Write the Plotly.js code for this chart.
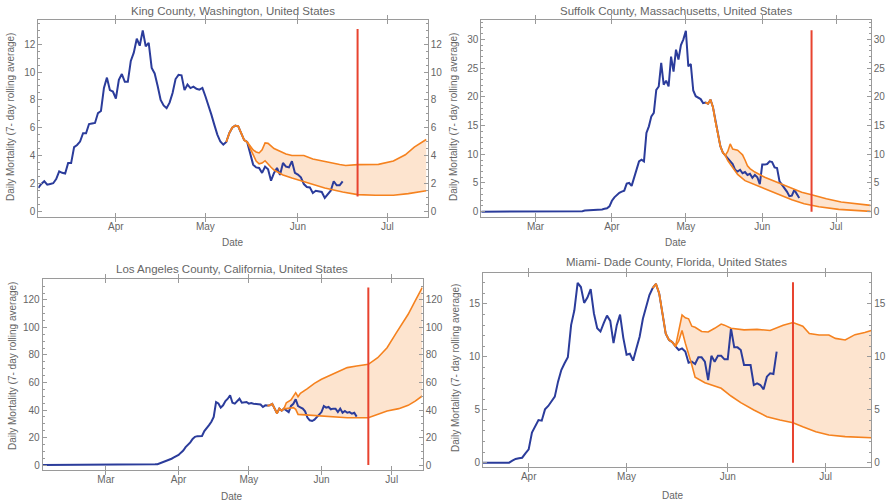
<!DOCTYPE html>
<html>
<head>
<meta charset="utf-8">
<script src="https://cdn.plot.ly/plotly-3.0.1.min.js"></script>
<style>html,body{margin:0;padding:0;background:#fff}#chart{width:887px;height:503px}</style>
</head>
<body>
<div id="chart"></div>
<script>
// ---------------- DATA ----------------
const monthTicks = ['2020-02-01','2020-03-01','2020-04-01','2020-05-01','2020-06-01','2020-07-01'];
const monthLabels = ['Feb','Mar','Apr','May','Jun','Jul'];
const yTitle = 'Daily Mortality (7- day rolling average)';
const xTitle = 'Date';

// King County
const kingTitle = 'King County, Washington, United States';
const kingObsStart = '2020-03-06';
const kingObs = [1.66,1.95,2.14,1.9,1.95,2.0,2.3,2.85,2.75,2.7,3.45,3.45,4.6,4.75,5.0,5.6,5.6,6.26,6.3,6.34,7.05,7.2,8.86,9.6,8.7,8.6,8.1,9.45,9.86,9.3,9.3,10.8,11.4,12.4,11.9,13.0,11.86,12.1,10.3,9.9,9.0,8.0,7.6,7.4,7.8,8.5,9.5,9.8,9.77,8.7,9.1,8.85,8.95,8.8,8.74,8.86,8.26,7.66,6.94,6.2,5.5,5.0,4.78,
  4.97,5.6,6.0,6.15,6.1,5.6,5.1,4.97,
  4.05,3.34,3.14,3.1,2.74,3.2,3.0,2.18,2.74,3.1,2.6,3.46,3.2,3.14,3.58,2.74,2.62,2.42,1.94,1.73,1.7,1.3,1.46,1.42,1.37,0.94,1.22,1.46,2.14,1.85,1.85,2.14];
const kingCommonStart = '2020-05-08';
const kingCommon = [4.97,5.6,6.0,6.15,6.1,5.6,5.1,4.97];
const kingUpDates = ['2020-05-16','2020-05-17','2020-05-18','2020-05-19','2020-05-20','2020-05-21','2020-05-22','2020-05-23','2020-05-24','2020-05-26','2020-05-28','2020-05-30','2020-06-03','2020-06-06','2020-06-10','2020-06-15','2020-06-17','2020-06-21','2020-06-28','2020-07-03','2020-07-07','2020-07-10','2020-07-14'];
const kingUp = [4.7,4.4,4.25,4.18,4.4,4.9,4.87,4.65,4.5,4.3,4.1,4.0,4.0,3.75,3.55,3.35,3.28,3.34,3.36,3.6,4.05,4.6,5.15];
const kingLoDates = ['2020-05-16','2020-05-17','2020-05-18','2020-05-19','2020-05-20','2020-05-21','2020-05-22','2020-05-23','2020-05-24','2020-05-27','2020-05-30','2020-06-05','2020-06-10','2020-06-16','2020-06-21','2020-06-27','2020-07-03','2020-07-08','2020-07-14'];
const kingLo = [4.5,4.0,3.6,3.4,3.45,3.62,3.35,3.15,2.95,2.6,2.38,2.0,1.66,1.37,1.18,1.13,1.13,1.25,1.46];
const kingRedDate = '2020-06-21';
const kingRed = [1.05,13.1];

// Suffolk County
const suffolkTitle = 'Suffolk County, Massachusetts, United States';
const suffolkObsStart = '2020-02-08';
const suffolkObs = [0,0,0,0,0,0,0,0,0,0,0,0,0,0,0,0,0,0,0,0,0,0,0,0,0,0,0,0,0,0,0,0,0,0,0,0,0,0,0,0,0,
  0.1,0.2,0.23,0.25,0.3,0.3,0.35,0.3,0.4,0.5,0.6,0.93,
  1.9,2.5,3.0,3.3,3.5,3.66,4.9,5.0,4.5,5.86,7.6,8.76,9.05,8.76,13.7,14.86,16.6,17.2,21.2,21.8,25.9,22.1,22.8,21.8,27.0,24.4,28.2,26.5,29.0,30.0,
  31.5,25.3,25.7,21.1,20.1,19.8,19.6,18.9,
  19.0,18.8,19.5,18.2,15.7,13.2,11.4,10.3,9.8,
  9.3,8.9,8.3,7.3,7.0,7.3,6.7,6.9,6.4,6.6,5.9,6.4,6.0,4.8,
  8.2,8.2,8.3,8.76,8.65,7.7,7.6,5.3,4.7,4.2,3.5,2.7,2.8,3.8,3.0,2.4];
const suffolkCommonStart = '2020-05-09';
const suffolkCommon = [19.0,18.8,19.5,18.2,15.7,13.2,11.4,10.3,9.8];
const suffolkUpDates = ['2020-05-18','2020-05-19','2020-05-20','2020-05-21','2020-05-22','2020-05-23','2020-05-24','2020-05-25','2020-05-26','2020-05-27','2020-05-29','2020-06-02','2020-06-08','2020-06-13','2020-06-17','2020-06-21','2020-06-27','2020-07-03','2020-07-10','2020-07-15'];
const suffolkUp = [10.5,11.8,10.9,10.8,10.7,10.3,9.9,9.0,8.0,7.5,6.9,6.0,5.0,4.1,3.4,2.96,2.26,1.7,1.33,1.1];
const suffolkLoDates = ['2020-05-18','2020-05-19','2020-05-20','2020-05-22','2020-05-25','2020-05-29','2020-06-02','2020-06-08','2020-06-13','2020-06-18','2020-06-24','2020-07-02','2020-07-09','2020-07-15'];
const suffolkLo = [8.9,8.3,7.7,6.5,5.4,4.7,4.0,3.0,2.1,1.4,0.87,0.4,0.17,0.06];
const suffolkRedDate = '2020-06-21';
const suffolkRed = [0,31.6];

// Los Angeles County
const laTitle = 'Los Angeles County, California, United States';
const laObsStart = '2020-02-03';
const laObs = [0,0,0,0,0,0,0,0,0,0,0,0,0,0,0,0,0,0,0,0,0,0,0,0,0,0,0,0,0,0,0,0,0,0,0,0,0,0,
  0.2,0.3,0.3,0.3,0.2,0.2,0.3,0.3,
  0.3,0.4,0.5,0.6,1.2,2.0,2.8,3.5,4.0,4.6,5.5,6.5,
  7.3,9.0,10.5,13.0,14.5,16.5,19.0,20.5,21.0,21.1,21.1,24.7,26.5,29.0,31.5,35.0,45.8,44.8,41.7,43.4,46.5,48.2,50.7,45.3,44.6,46.5,48.2,45.3,45.3,45.8,
  44.6,45.0,44.6,44.5,44.4,44.0,42.2,43.4,
  43.2,43.5,44.5,41.5,37.6,41.0,39.5,41.0,39.5,38.5,43.0,44.5,47.8,42.9,41.9,41.0,39.0,34.5,32.5,32.0,33.0,34.8,36.1,
  38.5,42.9,41.7,42.2,40.5,41.0,41.0,38.5,41.0,38.0,39.3,38.0,38.5,37.3,38.0,35.2];
const laCommonStart = '2020-05-09';
const laCommon = [43.2,43.5,44.5,41.5,37.6,41.0,39.5,41.0];
const laUpDates = ['2020-05-17','2020-05-19','2020-05-20','2020-05-21','2020-05-22','2020-05-23','2020-05-26','2020-05-29','2020-06-01','2020-06-04','2020-06-08','2020-06-12','2020-06-16','2020-06-21','2020-06-25','2020-06-29','2020-07-03','2020-07-08','2020-07-11','2020-07-14'];
const laUp = [45.3,47.3,49.7,52.6,49.7,52.1,55.5,59.4,62.3,64.7,67.6,70.8,72.0,73.2,78.0,85.3,96.2,109.6,119.3,129.0];
const laLoDates = ['2020-05-17','2020-05-20','2020-05-21','2020-05-22','2020-05-26','2020-06-01','2020-06-07','2020-06-12','2020-06-21','2020-06-25','2020-06-29','2020-07-04','2020-07-08','2020-07-11','2020-07-14'];
const laLo = [41.0,41.7,40.5,36.8,36.4,35.6,35.2,34.4,34.4,36.8,39.3,41.0,43.4,46.5,50.2];
const laRedDate = '2020-06-21';
const laRed = [0,129];

// Miami-Dade County
const miamiTitle = 'Miami- Dade County, Florida, United States';
const miamiObsStart = '2020-03-18';
const miamiObs = [0,0,0,0,0,0,0,0,0,
  0.19,0.35,0.42,0.47,0.88,
  1.26,2.84,3.4,4.03,3.97,5.04,5.36,5.77,6.24,7.66,8.76,9.39,9.96,13.0,14.4,17.0,16.6,15.1,15.6,16.4,14.1,12.7,12.4,13.2,13.9,13.4,11.3,13.0,14.0,11.8,
  10.2,10.3,9.64,10.8,11.9,13.6,14.8,15.85,
  16.5,16.9,16.0,14.1,12.2,11.6,11.4,11.0,
  10.65,10.8,10.5,9.45,9.55,9.33,9.96,9.96,9.55,7.8,10.1,9.55,10.1,10.1,9.77,
  9.77,12.7,10.9,10.9,10.65,9.23,9.23,9.23,7.34,7.5,7.34,6.93,8.13,8.45,8.38,10.5];
const miamiCommonStart = '2020-05-09';
const miamiCommon = [16.5,16.9,16.0,14.1,12.2,11.6,11.4,11.0];
const miamiUpDates = ['2020-05-17','2020-05-18','2020-05-19','2020-05-20','2020-05-21','2020-05-22','2020-05-24','2020-05-26','2020-05-28','2020-05-30','2020-05-31','2020-06-02','2020-06-06','2020-06-10','2020-06-14','2020-06-18','2020-06-21','2020-06-24','2020-06-26','2020-06-29','2020-07-02','2020-07-04','2020-07-07','2020-07-10','2020-07-13','2020-07-15'];
const miamiUp = [12.5,13.96,13.7,13.6,12.9,12.8,12.4,12.35,12.7,13.1,13.0,12.7,12.55,12.6,12.5,13.0,13.24,12.9,12.2,12.07,12.07,11.75,11.6,12.1,12.3,12.5];
const miamiLoDates = ['2020-05-17','2020-05-18','2020-05-19','2020-05-21','2020-05-22','2020-05-25','2020-05-28','2020-05-30','2020-06-02','2020-06-05','2020-06-09','2020-06-13','2020-06-17','2020-06-21','2020-06-24','2020-06-28','2020-07-02','2020-07-07','2020-07-15'];
const miamiLo = [11.5,12.5,11.3,9.23,8.07,7.56,7.25,7.03,6.3,5.67,4.98,4.35,4.03,3.78,3.4,2.93,2.62,2.46,2.36];
const miamiRedDate = '2020-06-21';
const miamiRed = [0,17.05];

// ---------------- BUILD ----------------
function dayList(start, n) {
  const d0 = Date.parse(start + 'T00:00:00Z');
  const out = [];
  for (let i = 0; i < n; i++) out.push(new Date(d0 + i * 86400000).toISOString().slice(0, 10));
  return out;
}

const W = 887, H = 503;
const panels = [
  {title: kingTitle, obsStart: kingObsStart, obs: kingObs, comStart: kingCommonStart, com: kingCommon,
   upD: kingUpDates, up: kingUp, loD: kingLoDates, lo: kingLo, redDate: kingRedDate, red: kingRed,
   xr: ['2020-03-06', '2020-07-14 12:00'], yr: [-0.41, 13.75], dtick: 2, minor: 0.5,
   px: [38.3, 427.7], py: [20, 216.7], tpos: [233, 11], dpos: [233, 242.4], ypos: [11, 117]},
  {title: suffolkTitle, obsStart: suffolkObsStart, obs: suffolkObs, comStart: suffolkCommonStart, com: suffolkCommon,
   upD: suffolkUpDates, up: suffolkUp, loD: suffolkLoDates, lo: suffolkLo, redDate: suffolkRedDate, red: suffolkRed,
   xr: ['2020-02-08', '2020-07-15'], yr: [-0.87, 33.37], dtick: 5, minor: 1,
   px: [481.3, 870.7], py: [20, 216.7], tpos: [676, 11], dpos: [676, 242.4], ypos: [454, 117]},
  {title: laTitle, obsStart: laObsStart, obs: laObs, comStart: laCommonStart, com: laCommon,
   upD: laUpDates, up: laUp, loD: laLoDates, lo: laLo, redDate: laRedDate, red: laRed,
   xr: ['2020-02-03', '2020-07-14 05:00'], yr: [-3.6, 135], dtick: 20, minor: 5,
   px: [42.7, 422.7], py: [279.3, 470], tpos: [232, 269], dpos: [232, 496.3], ypos: [12, 366]},
  {title: miamiTitle, obsStart: miamiObsStart, obs: miamiObs, comStart: miamiCommonStart, com: miamiCommon,
   upD: miamiUpDates, up: miamiUp, loD: miamiLoDates, lo: miamiLo, redDate: miamiRedDate, red: miamiRed,
   xr: ['2020-03-18', '2020-07-15'], yr: [-0.38, 17.9], dtick: 5, minor: 1,
   px: [483, 871.3], py: [273.3, 466.7], tpos: [676, 262.3], dpos: [673, 495.4], ypos: [455, 368]}
];

const BLUE = '#2b3c9b', ORANGE = '#f5821f', RED = '#e8432f', FILL = 'rgba(250,185,130,0.38)';
const FRAME = '#9a9a9a', TXT = '#666666';
const FONT = 'Liberation Sans, Arial, sans-serif';

const data = [];
const layout = {
  width: W, height: H, margin: {l: 0, r: 0, t: 0, b: 0},
  paper_bgcolor: '#fff', plot_bgcolor: '#fff', showlegend: false,
  font: {family: FONT, size: 10, color: TXT},
  annotations: []
};

panels.forEach((p, i) => {
  const n = i + 1;
  const xa = n === 1 ? 'x' : 'x' + n;
  const ya = n === 1 ? 'y' : 'y' + n;
  const ya2 = 'y' + (n + 4);
  const comDates = dayList(p.comStart, p.com.length);
  const loX = comDates.concat(p.loD), loY = p.com.concat(p.lo);
  const upX = comDates.concat(p.upD), upY = p.com.concat(p.up);
  const obsX = dayList(p.obsStart, p.obs.length);

  data.push({x: loX, y: loY, xaxis: xa, yaxis: ya, mode: 'lines', line: {width: 0, color: 'rgba(0,0,0,0)'}, hoverinfo: 'skip'});
  data.push({x: upX, y: upY, xaxis: xa, yaxis: ya, mode: 'lines', fill: 'tonexty', fillcolor: FILL, line: {width: 0, color: 'rgba(0,0,0,0)'}, hoverinfo: 'skip'});
  data.push({x: obsX, y: p.obs, xaxis: xa, yaxis: ya, mode: 'lines', line: {color: BLUE, width: 2}});
  data.push({x: loX, y: loY, xaxis: xa, yaxis: ya, mode: 'lines', line: {color: ORANGE, width: 1.6}});
  data.push({x: upX, y: upY, xaxis: xa, yaxis: ya, mode: 'lines', line: {color: ORANGE, width: 1.6}});
  data.push({x: [p.redDate, p.redDate], y: p.red, xaxis: xa, yaxis: ya2, mode: 'lines', line: {color: RED, width: 2}});

  const xd = [p.px[0] / W, p.px[1] / W];
  const yd = [1 - p.py[1] / H, 1 - p.py[0] / H];
  const xKey = n === 1 ? 'xaxis' : 'xaxis' + n;
  const yKey = n === 1 ? 'yaxis' : 'yaxis' + n;
  layout[xKey] = {
    domain: xd, anchor: ya, type: 'date', range: p.xr,
    tickmode: 'array', tickvals: monthTicks, ticktext: monthLabels,
    ticks: 'inside', ticklen: 4, tickcolor: FRAME, tickwidth: 1,
    showline: true, linecolor: FRAME, linewidth: 1, mirror: 'allticks',
    showgrid: false, zeroline: false, tickfont: {size: 10, color: TXT}, fixedrange: true
  };
  const yCommon = {
    range: p.yr, tickmode: 'linear', tick0: 0, dtick: p.dtick,
    ticks: 'inside', ticklen: 4, tickcolor: FRAME, tickwidth: 1,
    minor: {dtick: p.minor, tick0: 0, ticks: 'inside', ticklen: 2, tickcolor: FRAME, tickwidth: 1, showgrid: false},
    showline: true, linecolor: FRAME, linewidth: 1, showgrid: false, zeroline: false,
    tickfont: {size: 10, color: TXT}, fixedrange: true
  };
  layout[yKey] = Object.assign({domain: yd, anchor: xa, side: 'left'}, yCommon);
  layout['yaxis' + (n + 4)] = Object.assign({overlaying: ya, anchor: xa, side: 'right'}, yCommon);

  layout.annotations.push({text: p.title, x: p.tpos[0] / W, y: 1 - p.tpos[1] / H, xref: 'paper', yref: 'paper',
    xanchor: 'center', yanchor: 'middle', showarrow: false, font: {size: 11.5, color: TXT, family: FONT}});
  layout.annotations.push({text: xTitle, x: p.dpos[0] / W, y: 1 - p.dpos[1] / H, xref: 'paper', yref: 'paper',
    xanchor: 'center', yanchor: 'middle', showarrow: false, font: {size: 10, color: TXT, family: FONT}});
  layout.annotations.push({text: yTitle, x: p.ypos[0] / W, y: 1 - p.ypos[1] / H, xref: 'paper', yref: 'paper',
    xanchor: 'center', yanchor: 'middle', textangle: -90, showarrow: false, font: {size: 10, color: TXT, family: FONT}});
});

Plotly.newPlot('chart', data, layout, {staticPlot: true, displayModeBar: false});
</script>
</body>
</html>
